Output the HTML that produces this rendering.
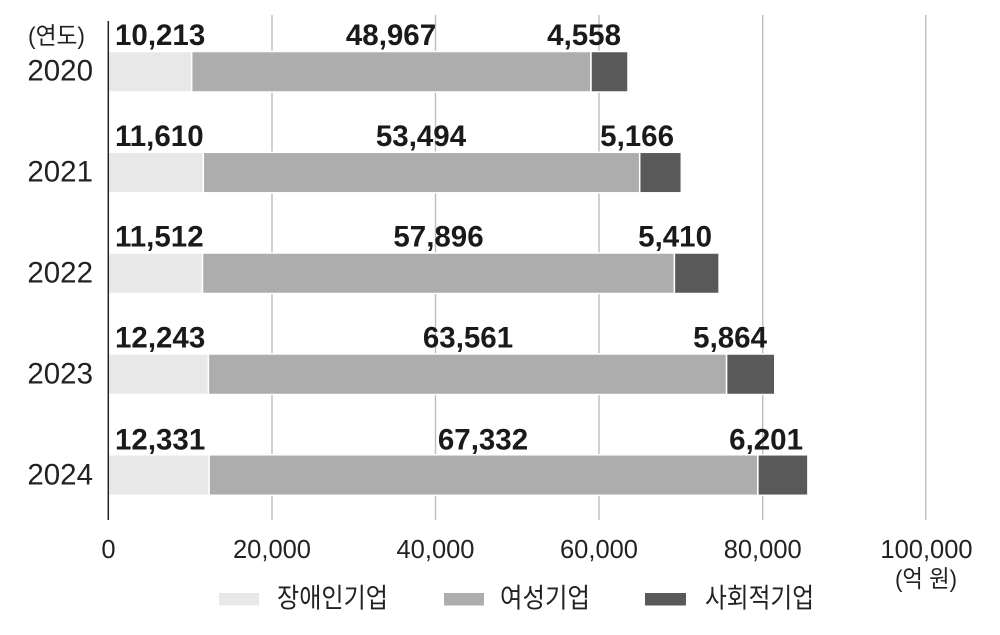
<!DOCTYPE html>
<html><head><meta charset="utf-8"><style>
html,body{margin:0;padding:0;background:#fff;}
svg{display:block;}
.num{font-family:"Liberation Sans",sans-serif;}
.kr{font-family:"Liberation Sans","Noto Sans CJK KR",sans-serif;}
</style></head><body>
<svg width="1000" height="635" viewBox="0 0 1000 635" xmlns="http://www.w3.org/2000/svg">
<rect width="1000" height="635" fill="#fff"/>
<!-- gridlines -->
<g stroke="#bdbdbd" stroke-width="1.4">
<line x1="272" y1="15" x2="272" y2="520"/>
<line x1="435.5" y1="15" x2="435.5" y2="520"/>
<line x1="599" y1="15" x2="599" y2="520"/>
<line x1="762.7" y1="15" x2="762.7" y2="520"/>
<line x1="925.7" y1="15" x2="925.7" y2="520"/>
</g>
<!-- bars -->
<g stroke="#fff" stroke-width="1.5">
<rect x="108.5" y="51.5" width="83.2" height="40.5" fill="#e8e8e8"/>
<rect x="191.7" y="51.5" width="399.3" height="40.5" fill="#acadac"/>
<rect x="591" y="51.5" width="37" height="40.5" fill="#595959"/>

<rect x="108.5" y="152.3" width="94.8" height="40.5" fill="#e8e8e8"/>
<rect x="203.3" y="152.3" width="436.4" height="40.5" fill="#acadac"/>
<rect x="639.7" y="152.3" width="41.6" height="40.5" fill="#595959"/>

<rect x="108.5" y="253" width="94" height="40.5" fill="#e8e8e8"/>
<rect x="202.5" y="253" width="471.9" height="40.5" fill="#acadac"/>
<rect x="674.4" y="253" width="44.7" height="40.5" fill="#595959"/>

<rect x="108.5" y="354" width="99.9" height="40.5" fill="#e8e8e8"/>
<rect x="208.4" y="354" width="518.2" height="40.5" fill="#acadac"/>
<rect x="726.6" y="354" width="48.2" height="40.5" fill="#595959"/>

<rect x="108.5" y="454.8" width="100.6" height="40.5" fill="#e8e8e8"/>
<rect x="209.1" y="454.8" width="548.8" height="40.5" fill="#acadac"/>
<rect x="757.9" y="454.8" width="50" height="40.5" fill="#595959"/>
</g>
<!-- axis -->
<line x1="108.3" y1="21" x2="108.3" y2="520" stroke="#222" stroke-width="1.5"/>
<!-- value labels -->
<g class="num" font-weight="bold" font-size="29.5" fill="#1a1a1a">
<text x="115" y="45">10,213</text>
<text x="391" y="45" text-anchor="middle">48,967</text>
<text x="621" y="45" text-anchor="end">4,558</text>

<text x="115" y="145.8">11,610</text>
<text x="421" y="145.8" text-anchor="middle">53,494</text>
<text x="674" y="145.8" text-anchor="end">5,166</text>

<text x="115" y="246.5">11,512</text>
<text x="438.5" y="246.5" text-anchor="middle">57,896</text>
<text x="712" y="246.5" text-anchor="end">5,410</text>

<text x="115" y="347.5">12,243</text>
<text x="468" y="347.5" text-anchor="middle">63,561</text>
<text x="767" y="347.5" text-anchor="end">5,864</text>

<text x="115" y="449.5">12,331</text>
<text x="483" y="449.5" text-anchor="middle">67,332</text>
<text x="803" y="449.5" text-anchor="end">6,201</text>
</g>
<!-- year labels -->
<g class="num" font-size="29.5" fill="#222" text-anchor="end">
<text x="93" y="80.5">2020</text>
<text x="93" y="181.5">2021</text>
<text x="93" y="282.5">2022</text>
<text x="93" y="383.5">2023</text>
<text x="93" y="484.5">2024</text>
</g>
<text class="kr" x="28" y="44" font-size="24" fill="#222" textLength="57" lengthAdjust="spacingAndGlyphs">(연도)</text>
<!-- x tick labels -->
<g class="num" font-size="25.5" fill="#222" text-anchor="middle">
<text x="108.5" y="558">0</text>
<text x="272" y="558">20,000</text>
<text x="435.5" y="558">40,000</text>
<text x="599" y="558">60,000</text>
<text x="762.7" y="558">80,000</text>
<text x="926.5" y="558">100,000</text>
</g>
<text class="kr" x="895" y="587" font-size="24" fill="#222" textLength="62" lengthAdjust="spacingAndGlyphs">(억 원)</text>
<!-- legend -->
<rect x="219" y="593" width="40" height="12.5" fill="#e8e8e8"/>
<text class="kr" x="277" y="607.5" font-size="27" fill="#222" textLength="111" lengthAdjust="spacingAndGlyphs">장애인기업</text>
<rect x="444" y="593" width="40" height="12.5" fill="#acadac"/>
<text class="kr" x="500" y="607.5" font-size="27" fill="#222" textLength="90" lengthAdjust="spacingAndGlyphs">여성기업</text>
<rect x="645" y="593" width="41" height="12.5" fill="#595959"/>
<text class="kr" x="705" y="607.5" font-size="27" fill="#222" textLength="109" lengthAdjust="spacingAndGlyphs">사회적기업</text>
</svg>
</body></html>
